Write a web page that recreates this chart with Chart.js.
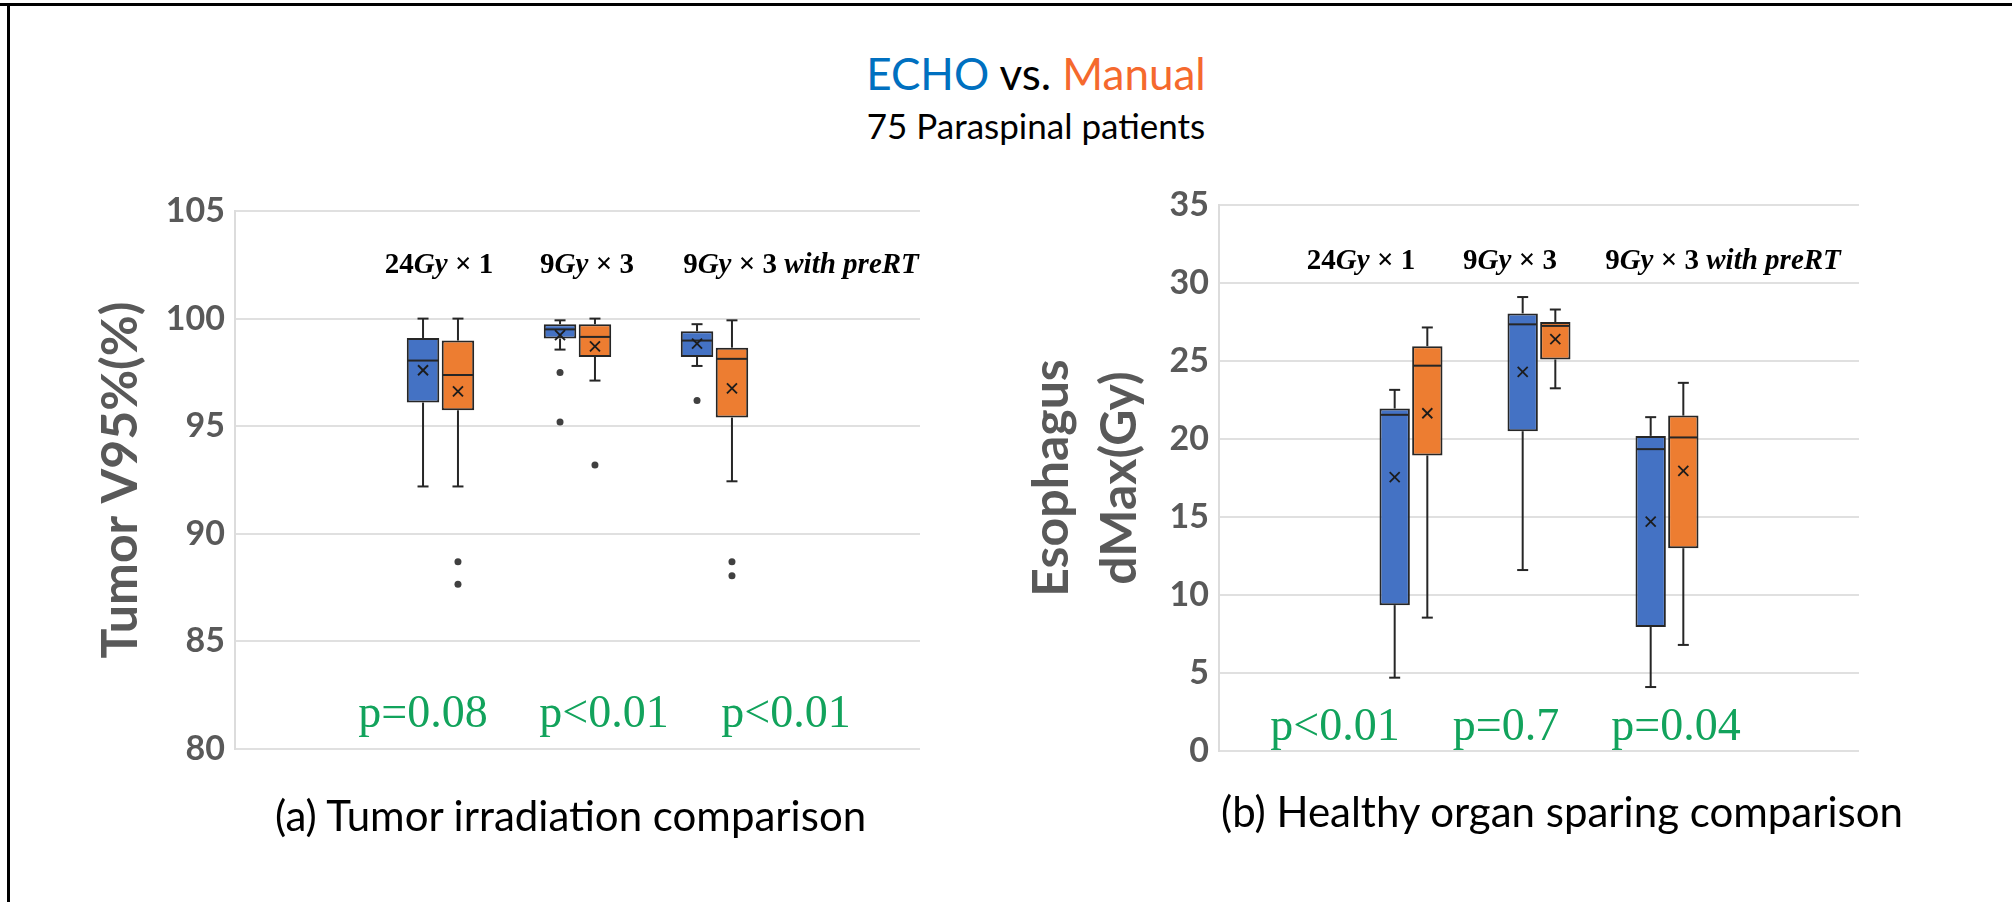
<!DOCTYPE html>
<html>
<head>
<meta charset="utf-8">
<title>ECHO vs. Manual</title>
<script src="https://cdn.jsdelivr.net/npm/chart.js@4.4.1/dist/chart.umd.min.js"></script>
<style>
    body { margin: 0; background: #fff; }
    #page { position: relative; width: 2012px; height: 902px; overflow: hidden; background: #fff; font-family: Lato, "Open Sans", sans-serif; }
    .frame-top { position: absolute; left: 0; top: 3px; width: 2012px; height: 3px; background: #000; }
    .frame-left { position: absolute; left: 7px; top: 3px; width: 3px; height: 899px; background: #000; }
    .head { position: absolute; left: 736px; width: 600px; text-align: center; line-height: 1.2; white-space: nowrap; color: #000; }
    #head1 { top: 47px; font-size: 44px; }
    #head2 { top: 104px; font-size: 35px; }
    .caption { position: absolute; font-size: 42px; line-height: 1.2; color: #000; white-space: nowrap; }
    canvas { position: absolute; }
</style>
</head>
<body>
<div id="page">
    <div class="frame-top"></div>
    <div class="frame-left"></div>
    <div class="head" id="head1"><span style="color:#0070C0">ECHO</span> vs. <span style="color:#F5692D">Manual</span></div>
    <div class="head" id="head2">75 Paraspinal patients</div>

    <canvas id="tumorChart" width="900" height="650" style="left:60px; top:150px;"></canvas>
    <canvas id="esoChart" width="900" height="650" style="left:990px; top:150px;"></canvas>

    <div class="caption" style="left:275px; top:790px;">(a) Tumor irradiation comparison</div>
    <div class="caption" style="left:1221px; top:786px;">(b) Healthy organ sparing comparison</div>
</div>

<script>
// Categories (regimens)
const categories = ['24Gy × 1', '9Gy × 3', '9Gy × 3 with preRT'];

// Box summaries per category: [min, q1, median, q3, max]
const tumorEcho = [[92.2, 96.1, 98.05, 99.1, 100.0], [98.56, 99.07, 99.5, 99.74, 99.92], [97.8, 98.22, 98.98, 99.41, 99.74]];
const tumorManual = [[92.2, 95.74, 97.38, 98.98, 100.0], [97.12, 98.22, 99.15, 99.74, 100.0], [92.44, 95.4, 98.13, 98.65, 99.92]];
const tumorEchoMean = [97.6, 99.23, 98.84];
const tumorManualMean = [96.62, 98.71, 96.76];
const tumorEchoOut = [[], [97.5, 95.2], [96.2]];
const tumorManualOut = [[88.7, 87.65], [93.2], [88.7, 88.05]];
const tumorP = ['p=0.08', 'p<0.01', 'p<0.01'];

const esoEcho = [[4.7, 9.35, 21.55, 21.95, 23.15], [11.6, 20.5, 27.35, 28.05, 29.1], [4.1, 7.95, 19.35, 20.2, 21.4]];
const esoManual = [[8.55, 18.95, 24.7, 25.95, 27.15], [23.25, 25.1, 27.25, 27.5, 28.3], [6.8, 13.0, 20.1, 21.5, 23.6]];
const esoEchoMean = [17.55, 24.3, 14.7];
const esoManualMean = [21.65, 26.4, 17.95];
const esoP = ['p<0.01', 'p=0.7', 'p=0.04'];

// Axis ticks
const tumorTicks = [80, 105, 5];
const esoTicks = [0, 35, 5];

const ECHO_COLOR = '#4472C4';
const MANUAL_COLOR = '#ED7D31';
const EDGE = '#262626';
const AXIS_GRAY = '#595959';
const P_GREEN = '#12A35C';

Chart.defaults.font.family = 'Lato, "Open Sans", sans-serif';

// one empty slot each side, like the original sheet
function padded(arr) {
    return [null, ...arr, null];
}

function boxDataset(label, color, stats, means, outliers) {
    return {
        label: label,
        data: padded(stats.map(s => [s[1], s[3]])),
        backgroundColor: color,
        borderColor: EDGE,
        borderWidth: 2,
        borderSkipped: false,
        categoryPercentage: 0.51,
        barPercentage: 0.93,
        stats: stats,
        means: means,
        outliers: outliers || []
    };
}

function line(ctx, x1, y1, x2, y2) {
    ctx.beginPath();
    ctx.moveTo(x1, y1);
    ctx.lineTo(x2, y2);
    ctx.stroke();
}

// Cambria-math look: letters italic, digits and signs upright
function drawMathLabel(ctx, text, cx, baseline, size) {
    const parts = text.match(/[A-Za-z]+|[^A-Za-z]+/g);
    const fontOf = p => (/[A-Za-z]/.test(p) ? 'italic ' : '') + 'bold ' + size + 'px "Liberation Serif", serif';
    let total = 0;
    parts.forEach(p => { ctx.font = fontOf(p); total += ctx.measureText(p).width; });
    let x = cx - total / 2;
    ctx.textAlign = 'left';
    ctx.textBaseline = 'alphabetic';
    parts.forEach(p => {
        ctx.font = fontOf(p);
        ctx.fillText(p, x, baseline);
        x += ctx.measureText(p).width;
    });
}

const boxParts = {
    id: 'boxParts',
    afterDatasetsDraw(chart) {
        const ctx = chart.ctx;
        const y = chart.scales.y;
        chart.data.datasets.forEach((ds, i) => {
            const meta = chart.getDatasetMeta(i);
            ds.stats.forEach((s, j) => {
                const bar = meta.data[j + 1];
                const x = bar.x;
                const half = bar.width / 2;
                const cap = 5.5;
                ctx.save();
                ctx.strokeStyle = EDGE;
                ctx.lineWidth = 2;
                // whiskers
                line(ctx, x, y.getPixelForValue(s[3]), x, y.getPixelForValue(s[4]));
                line(ctx, x, y.getPixelForValue(s[1]), x, y.getPixelForValue(s[0]));
                line(ctx, x - cap, y.getPixelForValue(s[4]), x + cap, y.getPixelForValue(s[4]));
                line(ctx, x - cap, y.getPixelForValue(s[0]), x + cap, y.getPixelForValue(s[0]));
                // median
                const ym = y.getPixelForValue(s[2]);
                line(ctx, x - half + 1, ym, x + half - 1, ym);
                // mean marker
                const ya = y.getPixelForValue(ds.means[j]);
                ctx.strokeStyle = '#1c1c1c';
                ctx.lineWidth = 1.8;
                line(ctx, x - 5, ya - 5, x + 5, ya + 5);
                line(ctx, x - 5, ya + 5, x + 5, ya - 5);
                // outliers
                ctx.fillStyle = '#404040';
                (ds.outliers[j] || []).forEach(v => {
                    ctx.beginPath();
                    ctx.arc(x, y.getPixelForValue(v), 3.5, 0, Math.PI * 2);
                    ctx.fill();
                });
                ctx.restore();
            });
        });
    },
    afterDraw(chart, args, opts) {
        const ctx = chart.ctx;
        const xs = chart.scales.x;
        const y = chart.scales.y;
        ctx.save();
        ctx.fillStyle = '#000';
        categories.forEach((c, j) => {
            const cx = xs.getPixelForValue(j + 1) + opts.labelShift[j];
            drawMathLabel(ctx, c, cx, y.getPixelForValue(opts.labelAt), 29);
        });
        ctx.fillStyle = P_GREEN;
        ctx.font = '46px "Liberation Serif", serif';
        ctx.textAlign = 'center';
        ctx.textBaseline = 'alphabetic';
        opts.pText.forEach((t, j) => {
            ctx.fillText(t, xs.getPixelForValue(j + 1) + opts.pShift[j], y.getPixelForValue(opts.pAt));
        });
        ctx.restore();
    }
};

function makeChart(id, datasets, ticks, title, axisWidth, titlePad, titleLine, padding, marks) {
    return new Chart(document.getElementById(id), {
        type: 'bar',
        data: {
            labels: padded(categories),
            datasets: datasets
        },
        options: {
            responsive: false,
            animation: false,
            layout: { padding: padding },
            plugins: {
                legend: { display: false },
                tooltip: { enabled: false },
                boxParts: marks
            },
            scales: {
                x: { display: false },
                y: {
                    min: ticks[0],
                    max: ticks[1],
                    afterFit: s => { s.width = axisWidth; },
                    ticks: {
                        stepSize: ticks[2],
                        padding: 10,
                        color: AXIS_GRAY,
                        font: { size: 34, weight: 'bold' }
                    },
                    grid: { color: '#e0e0e0', lineWidth: 2, drawTicks: false },
                    border: { display: true, color: '#dcdcdc', width: 2 },
                    title: {
                        display: true,
                        text: title,
                        color: AXIS_GRAY,
                        font: { size: 50, weight: 'bold', lineHeight: titleLine },
                        padding: { top: titlePad, bottom: 0 }
                    }
                }
            }
        },
        plugins: [boxParts]
    });
}

makeChart('tumorChart',
    [boxDataset('ECHO', ECHO_COLOR, tumorEcho, tumorEchoMean, tumorEchoOut),
     boxDataset('Manual', MANUAL_COLOR, tumorManual, tumorManualMean, tumorManualOut)],
    tumorTicks, 'Tumor V95%(%)', 175, 31, 1.2,
    { top: 61, bottom: 51, right: 40, left: 0 },
    { labelAt: 102.1, labelShift: [-1.5, 9.5, 86.5], pAt: 81.0, pShift: [-17.5, 26.5, 71.5], pText: tumorP });

makeChart('esoChart',
    [boxDataset('ECHO', ECHO_COLOR, esoEcho, esoEchoMean),
     boxDataset('Manual', MANUAL_COLOR, esoManual, esoManualMean)],
    esoTicks, ['Esophagus', 'dMax(Gy)'], 229, 28, 1.36,
    { top: 55, bottom: 49, right: 31, left: 0 },
    { labelAt: 30.9, labelShift: [-50, -29, 56], pAt: 0.73, pShift: [-76, -33, 9], pText: esoP });
</script>
</body>
</html>
